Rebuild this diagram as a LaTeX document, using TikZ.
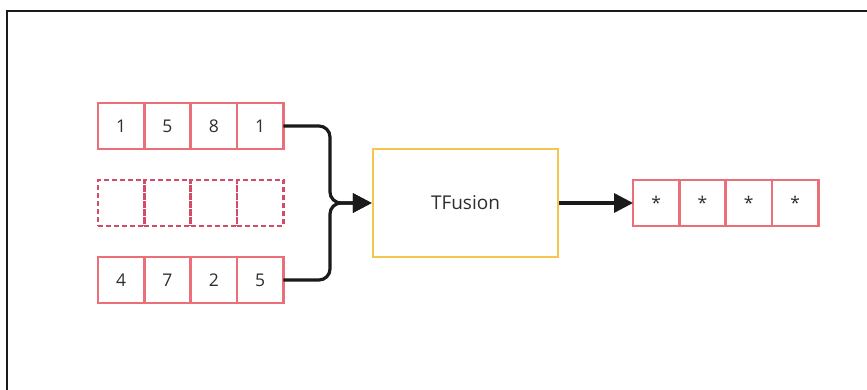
\documentclass[tikz,border=0pt]{standalone}
\usepackage{fontspec}
\setmainfont{Open Sans}
\usetikzlibrary{arrows.meta}
\definecolor{cellred}{HTML}{EA6F78}
\definecolor{dashred}{HTML}{D24C68}
\definecolor{boxyellow}{HTML}{F5C54E}
\definecolor{txt}{HTML}{2E2E2E}
\definecolor{conn}{HTML}{1A1A1A}
\tikzset{
  cell/.style={draw=cellred, line width=2.5pt, minimum width=46.3pt, minimum height=46pt, inner sep=0pt, outer sep=0pt, text=txt, font=\fontsize{17.5}{17.5}\selectfont},
  dcell/.style={cell, draw=dashred, dash pattern=on 5pt off 3pt},
  fusebox/.style={draw=boxyellow, line width=2.5pt, minimum width=185pt, minimum height=108pt, inner sep=0pt, text=txt, font=\fontsize{19}{19}\selectfont},
  link/.style={draw=conn, line width=3.2pt, rounded corners=11pt, -{Triangle[length=19pt,width=19pt]}},
}
\begin{document}
\begin{tikzpicture}[x=1pt,y=-1pt]
\useasboundingbox (0,0) rectangle (867,390);
\fill[white] (0,0) rectangle (867,390);
\draw[line width=2.6pt, color=conn] (7,392) -- (7,11) -- (869,11);
% top row
\node[cell] (t1) at (121.2,126) {1};
\node[cell] (t2) at (167.5,126) {5};
\node[cell] (t3) at (213.8,126) {8};
\node[cell] (t4) at (260.1,126) {1};
% dashed row
\node[dcell] (d1) at (121.2,203) {};
\node[dcell] (d2) at (167.5,203) {};
\node[dcell] (d3) at (213.8,203) {};
\node[dcell] (d4) at (260.1,203) {};
% bottom row
\node[cell] (b1) at (121.2,280) {4};
\node[cell] (b2) at (167.5,280) {7};
\node[cell] (b3) at (213.8,280) {2};
\node[cell] (b4) at (260.1,280) {5};
% fusion box
\node[fusebox] (tf) at (465.5,203) {TFusion};
% output row
\node[cell] (o1) at (656.2,203) {*};
\node[cell] (o2) at (702.5,203) {*};
\node[cell] (o3) at (748.8,203) {*};
\node[cell] (o4) at (795.1,203) {*};
\coordinate (j) at (330,203);
\draw[link] (t4.east) -- (t4.east -| j) -- (j) -- (tf.west);
\draw[link] (b4.east) -- (b4.east -| j) -- (j) -- (tf.west);
\draw[link] (tf.east) -- (o1.west);
\end{tikzpicture}
\end{document}
